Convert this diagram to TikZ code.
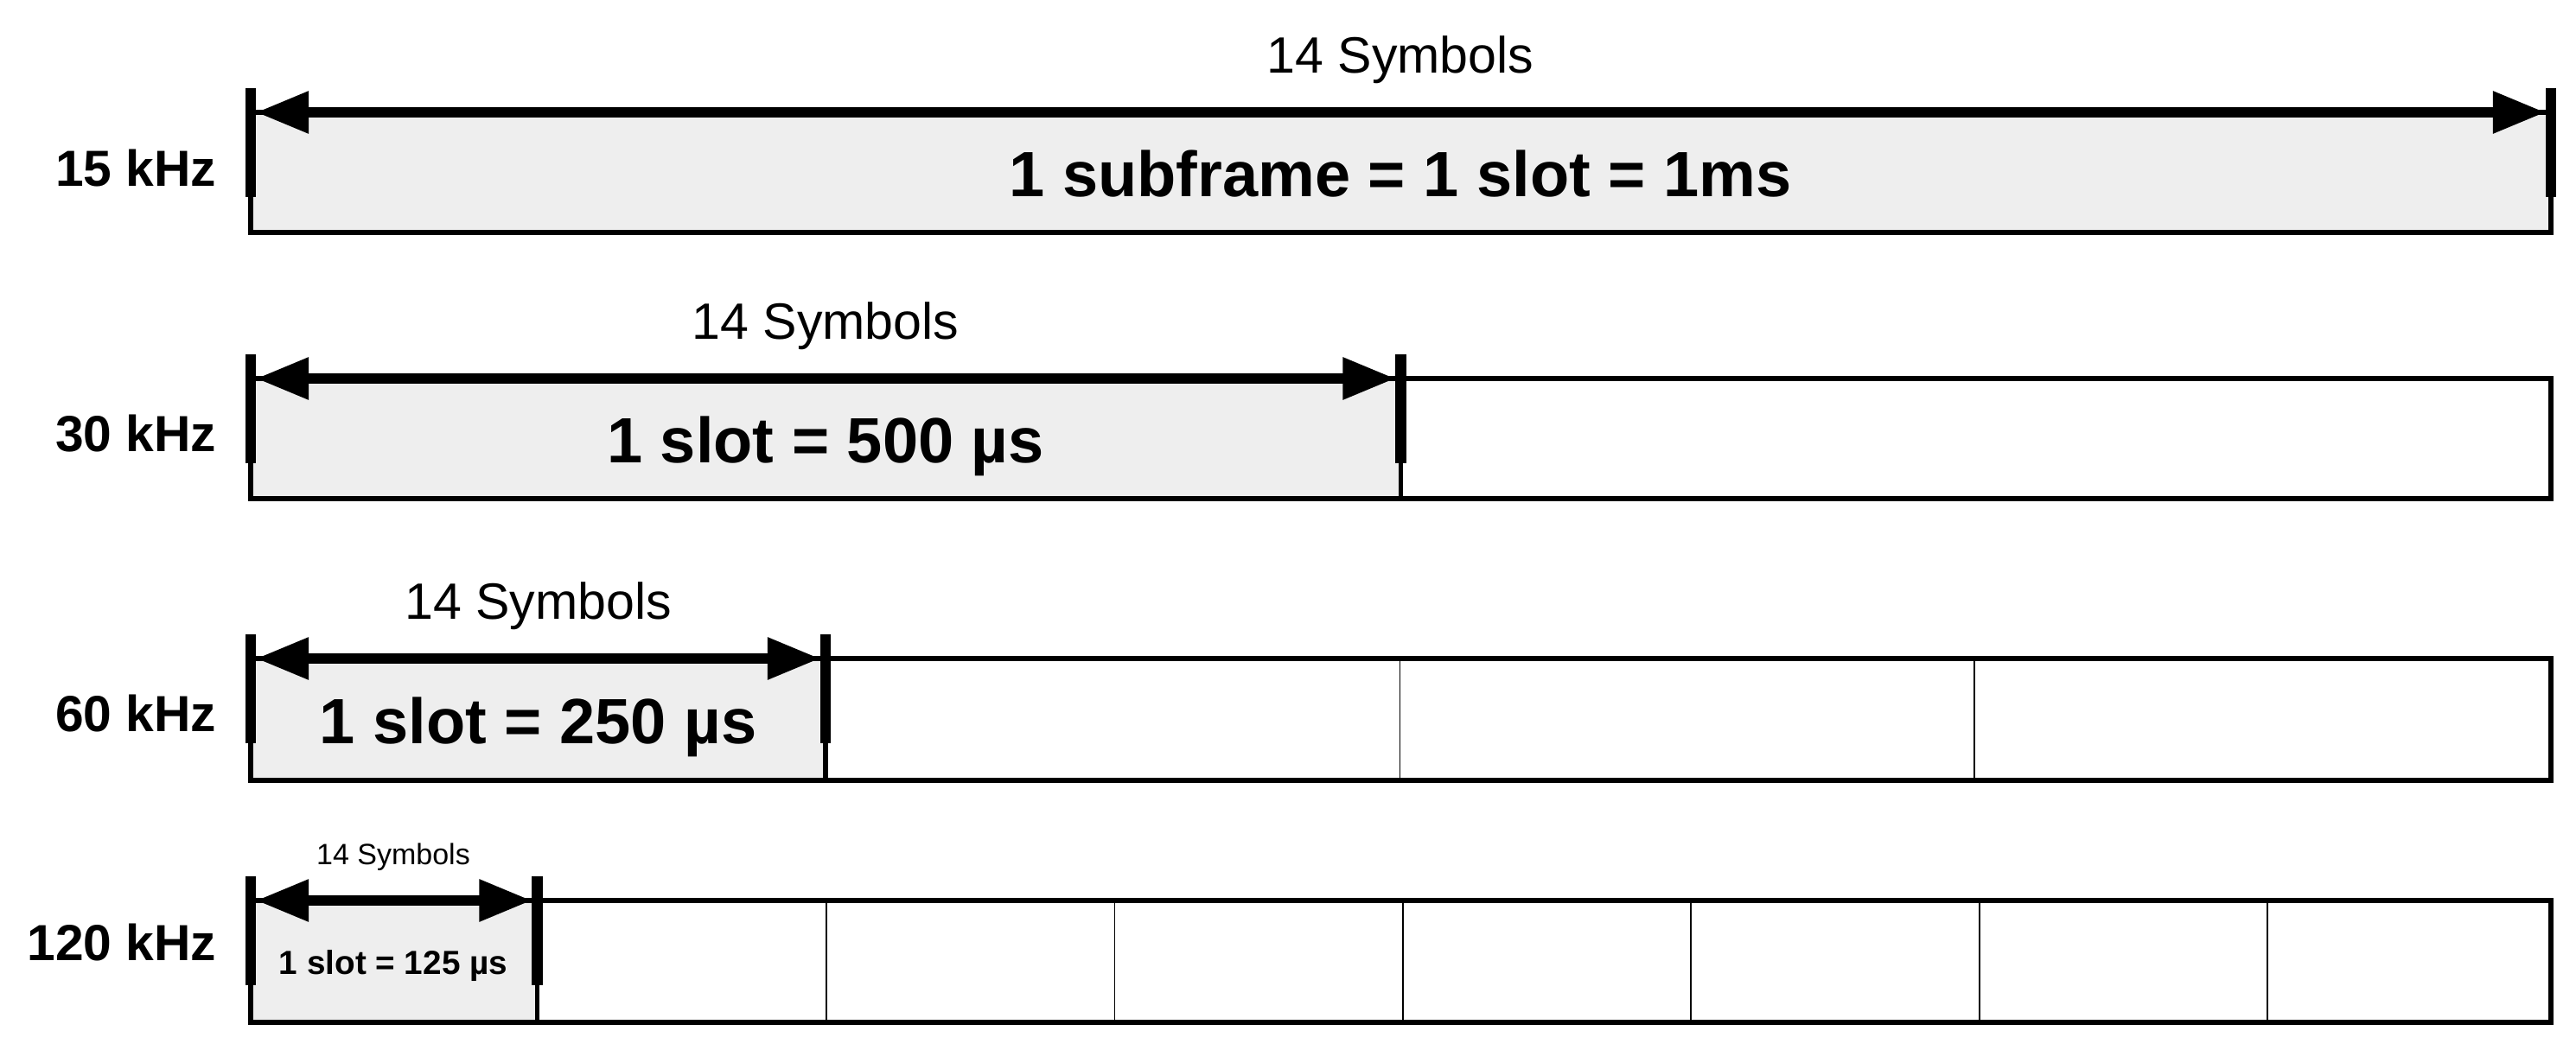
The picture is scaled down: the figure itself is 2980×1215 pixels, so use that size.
\documentclass[tikz,border=0pt]{standalone}
\usepackage{fontspec}
\setmainfont{Liberation Sans}
\usetikzlibrary{arrows.meta}
\definecolor{slotgray}{HTML}{EEEEEE}
\begin{document}
\begin{tikzpicture}[x=0.01cm,y=-0.01cm,
  bar/.style={line width=3.45pt},
  dimarrow/.style={line width=3.4pt,
    {Triangle[length=17.4pt,width=13.1pt]}-{Triangle[length=17.4pt,width=13.1pt]}},
  slotfill/.style={fill=slotgray},
  slotbox/.style={draw,line width=1.6pt},
  divider/.style={line width=0.4pt},
  khz/.style={font=\fontsize{16.7pt}{20pt}\selectfont\bfseries,anchor=base east,inner sep=0pt},
  symtext/.style={font=\fontsize{16.8pt}{20pt}\selectfont,anchor=base,inner sep=0pt},
  symsmall/.style={font=\fontsize{9.67pt}{12pt}\selectfont,anchor=base,inner sep=0pt},
  slottext/.style={font=\fontsize{21.05pt}{25pt}\selectfont\bfseries,anchor=base,inner sep=0pt},
  slotsmall/.style={font=\fontsize{11.0pt}{13pt}\selectfont\bfseries,anchor=base,inner sep=0pt}
]
\useasboundingbox (0,0) rectangle (2980,1215);

% ---------- Row 1 : 15 kHz ----------
\fill[slotfill] (290,130) rectangle (2951,269);
\draw[slotbox] (290,130) rectangle (2951,269);
\draw[bar] (290,102) -- (290,228);
\draw[bar] (2951,102) -- (2951,228);
\coordinate (l1) at (296,130);
\coordinate (r1) at (2945,130);
\draw[dimarrow] (l1) -- (r1);
\node[symtext] (sym1) at (1620,84) {14 Symbols};
\node[slottext] (slot1) at (1620,227) {1 subframe = 1 slot = 1ms};
\node[khz] (k1) at (251,215) {15 kHz};

% ---------- Row 2 : 30 kHz ----------
\fill[slotfill] (290,438) rectangle (1620.5,577);
\draw[slotbox] (290,438) rectangle (2951,577);
\draw[slotbox] (1620.5,438) -- (1620.5,577);
\draw[bar] (290,410) -- (290,536);
\draw[bar] (1620.5,410) -- (1620.5,536);
\coordinate (l2) at (296,438);
\coordinate (r2) at (1614.5,438);
\draw[dimarrow] (l2) -- (r2);
\node[symtext] (sym2) at (955,392) {14 Symbols};
\node[slottext] (slot2) at (955,535) {1 slot = 500 µs};
\node[khz] (k2) at (251,522) {30 kHz};

% ---------- Row 3 : 60 kHz ----------
\fill[slotfill] (290,762) rectangle (955,903);
\draw[slotbox] (290,762) rectangle (2951,903);
\draw[slotbox] (955,762) -- (955,903);
\draw[divider] (1619.5,762) -- (1619.5,903);
\draw[divider] (2284,762) -- (2284,903);
\draw[bar] (290,734) -- (290,860);
\draw[bar] (955,734) -- (955,860);
\coordinate (l3) at (296,762);
\coordinate (r3) at (949,762);
\draw[dimarrow] (l3) -- (r3);
\node[symtext] (sym3) at (622.5,716) {14 Symbols};
\node[slottext] (slot3) at (622.5,860) {1 slot = 250 µs};
\node[khz] (k3) at (251,846) {60 kHz};

% ---------- Row 4 : 120 kHz ----------
\fill[slotfill] (290,1042) rectangle (621.5,1183);
\draw[slotbox] (290,1042) rectangle (2951,1183);
\draw[slotbox] (621.5,1042) -- (621.5,1183);
\foreach \xx in {956,1289.5,1623,1956,2290,2623}
  \draw[divider] (\xx,1042) -- (\xx,1183);
\draw[bar] (290,1014) -- (290,1140);
\draw[bar] (621.5,1014) -- (621.5,1140);
\coordinate (l4) at (296,1042);
\coordinate (r4) at (615.5,1042);
\draw[dimarrow] (l4) -- (r4);
\node[symsmall] (sym4) at (455,1000) {14 Symbols};
\node[slotsmall] (slot4) at (455,1127) {1 slot = 125 µs};
\node[khz] (k4) at (251,1111) {120 kHz};
\end{tikzpicture}
\end{document}
